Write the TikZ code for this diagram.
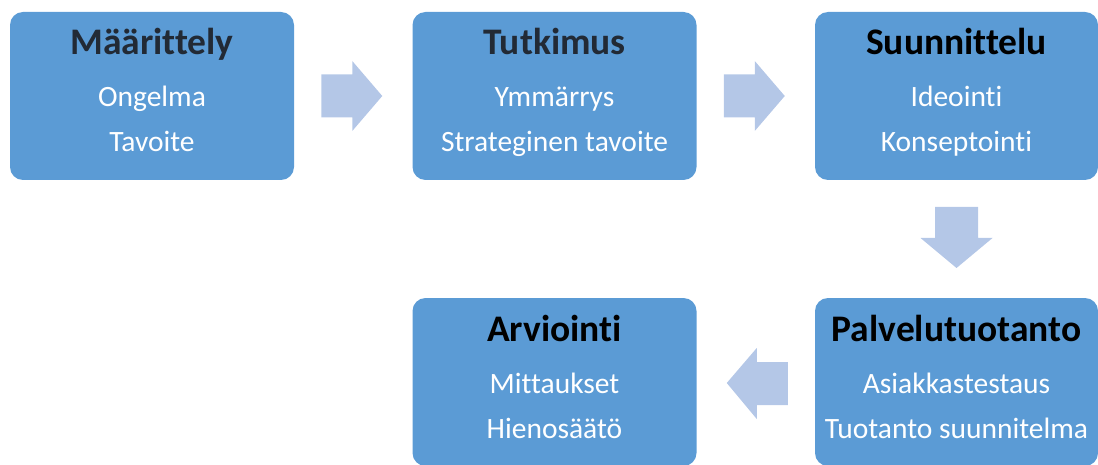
\documentclass[tikz,border=0pt]{standalone}
\usepackage{fontspec}
\setmainfont{Carlito}[Ligatures=NoCommon]
\usetikzlibrary{calc}
\definecolor{boxblue}{HTML}{5B9BD5}
\definecolor{arrowblue}{HTML}{B4C7E7}
\definecolor{titledark}{HTML}{222A35}
\begin{document}
\begin{tikzpicture}[x=1pt,y=-1pt,
  box/.style={fill=boxblue, rounded corners=13pt, minimum width=284pt, minimum height=168pt, inner sep=0pt, draw=none},
  ttl/.style={anchor=base, font=\fontsize{37.5}{42}\selectfont\bfseries, inner sep=0pt},
  bodytxt/.style={anchor=base, text=white, font=\fontsize{29.5}{33}\selectfont, inner sep=0pt},
  blockarrow/.style={fill=arrowblue, draw=none}]
\useasboundingbox (0,0) rectangle (1098,465);
% boxes
\node[box] (b1) at (152,96) {};
\node[box] (b2) at (554.5,96) {};
\node[box, minimum width=283pt] (b3) at (956.5,96) {};
\node[box] (b4) at (554.5,382) {};
\node[box, minimum width=283pt] (b5) at (956.5,382) {};
% texts
\node[ttl, text=titledark] (t1) at (152,55) {Määrittely};
\node[bodytxt] (t1a) at (152,107) {Ongelma};
\node[bodytxt] (t1b) at (152,152) {Tavoite};
\node[ttl, text=titledark] (t2) at (554.5,55) {Tutkimus};
\node[bodytxt] (t2a) at (554.5,107) {Ymmärrys};
\node[bodytxt] (t2b) at (554.5,152) {Strateginen tavoite};
\node[ttl, text=black] (t3) at (956.5,55) {Suunnittelu};
\node[bodytxt] (t3a) at (956.5,107) {Ideointi};
\node[bodytxt] (t3b) at (956.5,152) {Konseptointi};
\node[ttl, text=black] (t4) at (554.5,341) {Arviointi};
\node[bodytxt] (t4a) at (554.5,393) {Mittaukset};
\node[bodytxt] (t4b) at (554.5,438) {Hienosäätö};
\node[ttl, text=black] (t5) at (956.5,341) {Palvelutuotanto};
\node[bodytxt] (t5a) at (956.5,393) {Asiakkastestaus};
\node[bodytxt] (t5b) at (956.5,438) {Tuotanto suunnitelma};
% arrow anchors
\coordinate (m12) at ($(b1.east)!0.5!(b2.west)$);
\coordinate (m23) at ($(b2.east)!0.5!(b3.west)$);
\coordinate (m35) at ($(b3.south)!0.5!(b5.north)$);
\coordinate (m54) at ($(b5.west)!0.5!(b4.east)$);
% right arrows
\fill[blockarrow, shift={(m12)}] (-32,-21.5) -- (-1,-21.5) -- (-1,-35) -- (29,0) -- (-1,35) -- (-1,21.5) -- (-32,21.5) -- cycle;
\fill[blockarrow, shift={(m23)}] (-32,-21.5) -- (-1,-21.5) -- (-1,-35) -- (29,0) -- (-1,35) -- (-1,21.5) -- (-32,21.5) -- cycle;
% down arrow
\fill[blockarrow, shift={(m35)}] (-21.5,-32) -- (21.5,-32) -- (21.5,-1) -- (36,-1) -- (0,29) -- (-36,-1) -- (-21.5,-1) -- cycle;
% left arrow
\fill[blockarrow, shift={(m54)}] (32,-20) -- (1,-20) -- (1,-34) -- (-29,1) -- (1,37) -- (1,23) -- (32,23) -- cycle;
\end{tikzpicture}
\end{document}
